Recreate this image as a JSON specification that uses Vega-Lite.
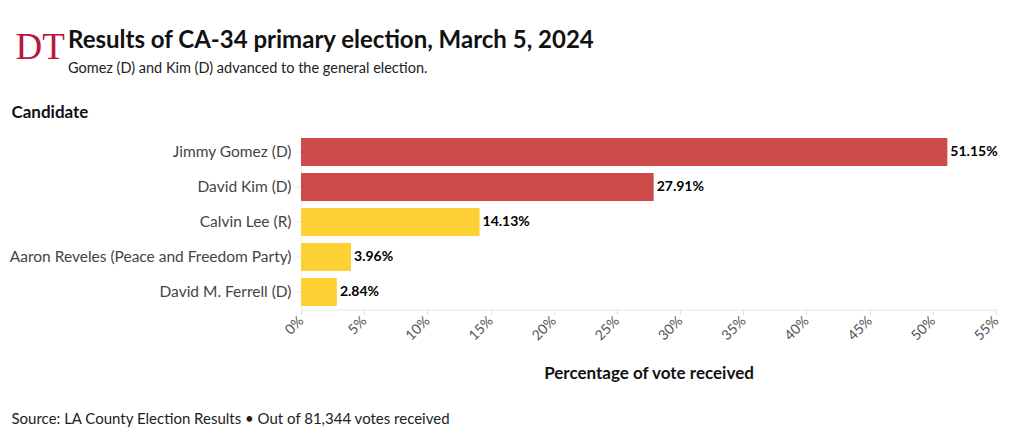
{
  "$schema": "https://vega.github.io/schema/vega-lite/v6.json",
  "width": 695,
  "height": 175,
  "autosize": {"type": "none"},
  "padding": {"left": 301, "top": 134.5, "right": 24, "bottom": 127.5},
  "background": "white",
  "title": {
    "text": "Results of CA-34 primary election, March 5, 2024",
    "subtitle": "Gomez (D) and Kim (D) advanced to the general election.",
    "anchor": "start",
    "frame": "group",
    "dx": -233,
    "dy": 51,
    "font": "Lato",
    "fontSize": 24,
    "fontWeight": "bold",
    "color": "#111111",
    "subtitleFont": "Lato",
    "subtitleFontSize": 14.5,
    "subtitleColor": "#222222",
    "subtitlePadding": 9
  },
  "data": {
    "values": [
      {"candidate": "Jimmy Gomez (D)", "share": 0.5115, "status": "Advanced"},
      {"candidate": "David Kim (D)", "share": 0.2791, "status": "Advanced"},
      {"candidate": "Calvin Lee (R)", "share": 0.1413, "status": "Eliminated"},
      {"candidate": "Aaron Reveles (Peace and Freedom Party)", "share": 0.0396, "status": "Eliminated"},
      {"candidate": "David M. Ferrell (D)", "share": 0.0284, "status": "Eliminated"}
    ]
  },
  "layer": [
    {
      "mark": {"type": "bar"},
      "encoding": {
        "x": {
          "field": "share",
          "type": "quantitative",
          "scale": {"domain": [0, 0.55], "nice": false},
          "axis": {
            "orient": "bottom",
            "values": [0, 0.05, 0.1, 0.15, 0.2, 0.25, 0.3, 0.35, 0.4, 0.45, 0.5, 0.55],
            "format": ".0%",
            "grid": false,
            "domainColor": "#e6e6e6",
            "tickColor": "#e0e0e0",
            "tickSize": 5,
            "labelAngle": -45,
            "labelAlign": "right",
            "labelBaseline": "middle",
            "labelFont": "Lato",
            "labelFontSize": 14,
            "labelColor": "#555555",
            "labelPadding": 4,
            "title": "Percentage of vote received",
            "titleFont": "Lato",
            "titleFontSize": 17,
            "titleFontWeight": "bold",
            "titleColor": "#111111",
            "titleBaseline": "alphabetic",
            "titleY": 69
          }
        },
        "y": {
          "field": "candidate",
          "type": "nominal",
          "sort": {"field": "share", "order": "descending"},
          "scale": {"paddingInner": 0.2, "paddingOuter": 0.1},
          "axis": {
            "orient": "left",
            "domainColor": "#eeeeee",
            "tickColor": "#e6e6e6",
            "tickSize": 5,
            "labelFont": "Lato",
            "labelFontSize": 15.5,
            "labelColor": "#444444",
            "labelPadding": 5,
            "labelLimit": 400,
            "title": "Candidate",
            "titleAngle": 0,
            "titleAlign": "left",
            "titleBaseline": "alphabetic",
            "titleX": -290,
            "titleY": -17.5,
            "titleFont": "Lato",
            "titleFontSize": 17,
            "titleFontWeight": "bold",
            "titleColor": "#111111"
          }
        },
        "color": {
          "field": "status",
          "type": "nominal",
          "scale": {"domain": ["Advanced", "Eliminated"], "range": ["#cc4a4a", "#fdd133"]},
          "legend": null
        }
      }
    },
    {
      "mark": {"type": "text", "align": "left", "baseline": "middle", "dx": 3, "font": "Lato", "fontSize": 14, "fontWeight": "bold", "color": "#000000"},
      "encoding": {
        "x": {
          "field": "share",
          "type": "quantitative",
          "axis": {
            "orient": "top",
            "labels": false,
            "ticks": false,
            "domain": false,
            "grid": false,
            "title": "DT",
            "titleFont": "Liberation Serif",
            "titleFontSize": 37,
            "titleFontWeight": "normal",
            "titleColor": "#b8193d",
            "titleAngle": 0,
            "titleAlign": "left",
            "titleBaseline": "alphabetic",
            "titleX": -286,
            "titleY": -76.5
          }
        },
        "y": {
          "field": "candidate",
          "type": "nominal",
          "sort": {"field": "share", "order": "descending"},
          "axis": {
            "orient": "right",
            "labels": false,
            "ticks": false,
            "domain": false,
            "grid": false,
            "title": "Source: LA County Election Results • Out of 81,344 votes received",
            "titleAngle": 0,
            "titleAlign": "left",
            "titleBaseline": "alphabetic",
            "titleX": -985,
            "titleY": 288.5,
            "titleFont": "Lato",
            "titleFontSize": 15,
            "titleFontWeight": "normal",
            "titleColor": "#222222"
          }
        },
        "text": {"field": "share", "type": "quantitative", "format": ".2%"}
      }
    }
  ],
  "resolve": {"axis": {"x": "independent", "y": "independent"}},
  "config": {"view": {"stroke": null}, "font": "Lato"}
}
